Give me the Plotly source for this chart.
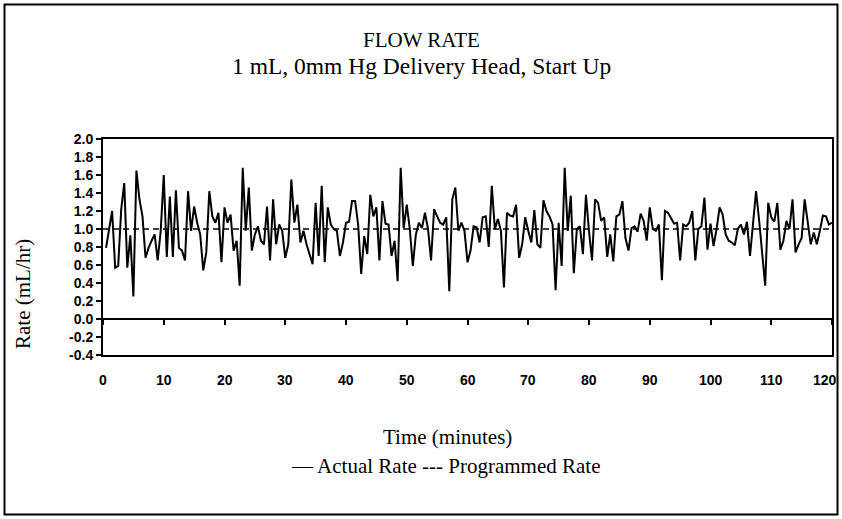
import plotly.graph_objects as go

# ---- data ----
actual_rate = [
    0.79, 1.0, 1.2, 0.57, 0.59, 1.22, 1.51, 0.57, 0.93, 0.25, 1.65, 1.33, 1.14, 0.68, 0.79, 0.87, 0.94, 0.65, 0.98, 1.6, 0.69, 1.36, 0.69, 1.43, 0.79, 0.76,
    0.65, 1.42, 0.98, 1.25, 1.07, 0.94, 0.54, 0.74, 1.42, 1.14, 1.07, 1.18, 0.63, 1.24, 1.07, 1.16, 0.76, 0.87, 0.37, 1.68, 0.98, 1.46, 0.76, 0.94, 1.03, 0.87, 0.83,
    1.25, 0.65, 1.33, 0.83, 1.05, 0.98, 0.68, 0.83, 1.55, 1.07, 1.27, 0.85, 0.98, 0.83, 0.72, 0.61, 1.29, 0.70, 1.48, 0.63, 1.24, 1.05, 1.0, 0.98, 0.70, 0.85,
    1.07, 1.08, 1.31, 1.31, 1.05, 0.5, 0.92, 0.72, 1.38, 1.14, 1.24, 0.65, 1.31, 1.06, 1.05, 0.70, 0.87, 0.42, 1.68, 1.01, 1.27, 1.0, 0.59, 0.94, 1.07, 1.01, 1.18,
    1.0, 0.65, 1.22, 1.14, 1.07, 1.05, 1.13, 0.31, 1.33, 1.46, 0.98, 1.07, 0.98, 0.63, 0.76, 1.03, 1.02, 0.85, 1.13, 1.14, 0.8, 1.48, 1.0, 1.11, 0.98, 0.35, 1.18,
    1.15, 1.14, 1.27, 0.68, 0.83, 1.13, 0.98, 0.85, 1.21, 0.83, 0.79, 1.32, 1.2, 1.14, 1.05, 0.32, 1.07, 0.59, 1.68, 0.98, 1.37, 0.51, 1.0, 1.03, 0.72, 1.38,
    0.98, 0.65, 1.33, 1.29, 1.09, 1.13, 0.69, 0.94, 0.64, 1.14, 1.16, 1.31, 0.9, 0.76, 1.01, 1.03, 0.97, 1.17, 1.09, 0.87, 1.24, 1.0, 0.98, 1.05, 0.43, 1.2, 1.18,
    1.12, 1.06, 1.07, 0.65, 1.05, 1.03, 1.07, 1.2, 0.65, 1.0, 1.03, 1.35, 0.77, 1.06, 0.81, 1.0, 1.24, 1.16, 0.94, 0.87, 0.85, 0.82, 1.0, 1.05, 0.94, 1.08,
    0.70, 1.05, 1.42, 1.1, 0.75, 0.37, 1.29, 1.13, 1.08, 1.29, 0.77, 0.87, 1.09, 1.0, 1.33, 0.74, 0.83, 0.9, 1.33, 1.05, 0.83, 0.96, 0.83, 0.98, 1.15, 1.14, 1.05, 1.07,
]
sample_step_min = 0.5
minutes = [sample_step_min * (i + 1) for i in range(len(actual_rate))]

programmed_minutes = [0, 120]
programmed_rate = [1.0, 1.0]

x_ticks = [0, 10, 20, 30, 40, 50, 60, 70, 80, 90, 100, 110, 120]
x_tick_labels = [str(v) for v in x_ticks]
y_ticks = [-0.4, -0.2, 0.0, 0.2, 0.4, 0.6, 0.8, 1.0, 1.2, 1.4, 1.6, 1.8, 2.0]
y_tick_labels = ["-0.4", "-0.2", "0.0", "0.2", "0.4", "0.6", "0.8", "1.0", "1.2", "1.4", "1.6", "1.8", "2.0"]

title_line1 = "FLOW RATE"
title_line2 = "1 mL, 0mm Hg Delivery Head, Start Up"
x_title = "Time (minutes)"
y_title = "Rate (mL/hr)"
legend_text = "\u2014 Actual Rate --- Programmed Rate"

# ---- layout geometry (pixels) ----
W, H = 842, 519
L, R, T, B = 103, 832, 139, 355
pw, ph = R - L, B - T


def px(x):
    return (x - L) / pw


def py(y):
    return (B - y) / ph


serif = "Liberation Serif, Times New Roman, serif"
sans = "Liberation Sans, Arial, sans-serif"
tick_font = dict(family=sans, size=14, color="black", weight="bold")

fig = go.Figure()
fig.add_trace(go.Scatter(
    x=programmed_minutes, y=programmed_rate, mode="lines",
    line=dict(color="black", width=1.5, dash="6px,4px"),
    xaxis="x2", yaxis="y", showlegend=False, hoverinfo="skip",
))
fig.add_trace(go.Scatter(
    x=minutes, y=actual_rate, mode="lines",
    line=dict(color="black", width=2),
    showlegend=False,
))

# x tick labels (the last one is nudged left to stay inside the chart box)
x_label_annotations = []
for i, (v, lab) in enumerate(zip(x_ticks, x_tick_labels)):
    x_label_annotations.append(dict(
        text=lab, x=v, xref="x", y=py(380), yref="paper",
        showarrow=False, font=tick_font, xanchor="center", yanchor="middle",
        xshift=-7 if i == len(x_ticks) - 1 else 0,
    ))

fig.update_layout(
    width=W, height=H, autosize=False,
    margin=dict(l=L, r=W - R, t=T, b=H - B, pad=0, autoexpand=False),
    paper_bgcolor="white", plot_bgcolor="white",
    showlegend=False,
    xaxis=dict(
        range=[0, 120], tickvals=x_ticks, showticklabels=False,
        showgrid=False, zeroline=False, showline=True, mirror=True,
        linecolor="black", linewidth=2, ticks="", automargin=False,
    ),
    xaxis2=dict(
        range=[0, 120], overlaying="x", anchor="free", position=0.4 / 2.4,
        tickvals=x_ticks, showticklabels=False, showgrid=False, zeroline=False,
        showline=True, linecolor="black", linewidth=1.5, automargin=False,
        ticks="outside", ticklen=5, tickwidth=1.5, tickcolor="black", side="bottom",
    ),
    yaxis=dict(
        range=[-0.4, 2.0], tickvals=y_ticks, ticktext=y_tick_labels,
        showgrid=False, zeroline=False, showline=True, mirror=True,
        linecolor="black", linewidth=2, automargin=False,
        ticks="outside", ticklen=5, tickwidth=1.5, tickcolor="black",
        tickfont=tick_font,
    ),
    shapes=[dict(
        type="rect", xref="paper", yref="paper",
        x0=px(4.5), x1=px(837.5), y0=py(514.5), y1=py(4.5),
        line=dict(color="black", width=2), fillcolor="rgba(0,0,0,0)", layer="below",
    )],
    annotations=x_label_annotations + [
        dict(text=title_line1, x=px(421), y=py(40), xref="paper", yref="paper",
             showarrow=False, font=dict(family=serif, size=21, color="black"),
             xanchor="center", yanchor="middle"),
        dict(text=title_line2, x=px(421), y=py(66), xref="paper", yref="paper",
             showarrow=False, font=dict(family=serif, size=23.5, color="black"),
             xanchor="center", yanchor="middle"),
        dict(text=x_title, x=px(447), y=py(437), xref="paper", yref="paper",
             showarrow=False, font=dict(family=serif, size=21, color="black"),
             xanchor="center", yanchor="middle"),
        dict(text=legend_text, x=px(446), y=py(466), xref="paper", yref="paper",
             showarrow=False, font=dict(family=serif, size=21, color="black"),
             xanchor="center", yanchor="middle"),
        dict(text=y_title, x=px(23), y=py(294), xref="paper", yref="paper",
             showarrow=False, textangle=-90,
             font=dict(family=serif, size=21, color="black"),
             xanchor="center", yanchor="middle"),
    ],
)

post = (
    "document.documentElement.style.overflow='hidden';"
    "document.body.style.margin='0';"
    "document.body.style.overflow='hidden';"
)
fig.write_html("out.html", post_script=post,
               config={"displayModeBar": False, "responsive": False})
